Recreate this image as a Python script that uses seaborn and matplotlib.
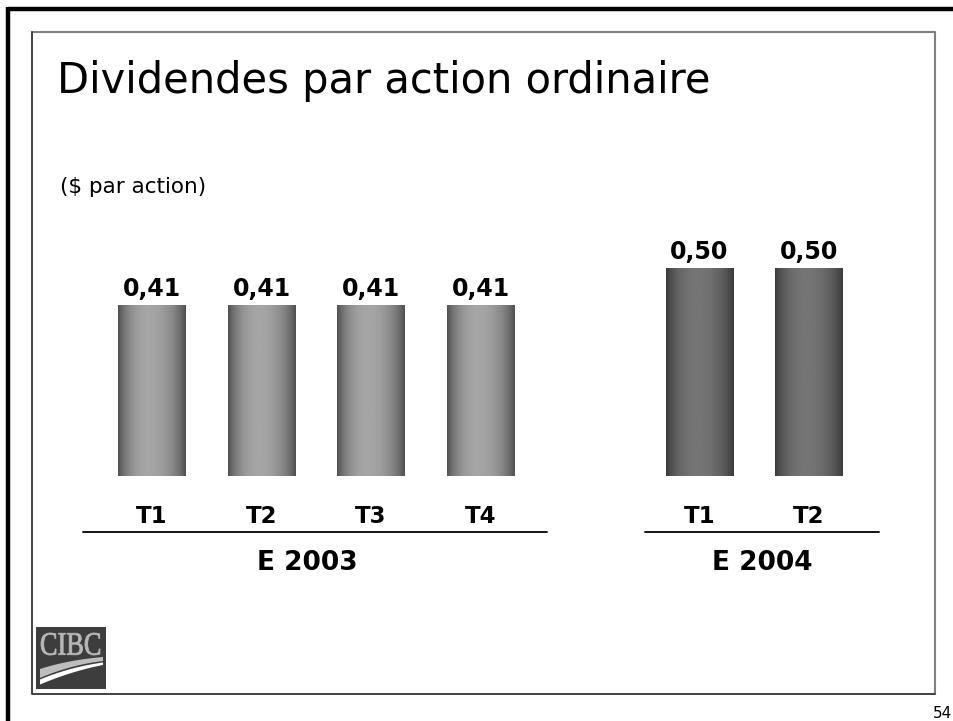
import numpy as np
import pandas as pd
import matplotlib
matplotlib.use("Agg")
import matplotlib.pyplot as plt
import seaborn as sns
from matplotlib.textpath import TextPath
from matplotlib.patches import PathPatch, Polygon, Rectangle
from matplotlib.font_manager import FontProperties
from matplotlib.transforms import Affine2D, blended_transform_factory
from matplotlib.lines import Line2D

# ---------------- data ----------------
quarters = ["T1", "T2", "T3", "T4", "T1", "T2"]
years = ["E 2003", "E 2003", "E 2003", "E 2003", "E 2004", "E 2004"]
dividends = [0.41, 0.41, 0.41, 0.41, 0.50, 0.50]
title = "Dividendes par action ordinaire"
subtitle = "($ par action)"
page_number = "54"

# slot positions: consecutive within a year, one empty slot between years
pos = []
p = 0
for i, y in enumerate(years):
    if i > 0 and y != years[i - 1]:
        p += 1
    pos.append(p)
    p += 1
df = pd.DataFrame({"pos": pos, "quarter": quarters, "year": years, "value": dividends})

# ---------------- figure ----------------
W, H = 954, 721
sns.set_theme(style="white", rc={"text.color": "black", "xtick.color": "black"})
plt.rcParams["font.family"] = ["DejaVu Sans"]
fig = plt.figure(figsize=(W / 100, H / 100), dpi=100)
fig.patch.set_facecolor("white")

# overlay axes in pixel coordinates (decoration)
ov = fig.add_axes([0, 0, 1, 1], zorder=0)
ov.set_xlim(0, W)
ov.set_ylim(H, 0)
ov.axis("off")
ov.patch.set_alpha(0)

# outer frame (top & left)
ov.add_line(Line2D([8.5, W], [8.5, 8.5], color="black", lw=3.2, solid_capstyle="butt"))
ov.add_line(Line2D([8.5, 8.5], [7, H], color="black", lw=3.2, solid_capstyle="butt"))
# inner slide box: light top/right, darker left/bottom
ov.add_line(Line2D([32, 935, 935], [32, 32, 694], color="#808080", lw=1.5))
ov.add_line(Line2D([32, 32, 935], [32, 694, 694], color="#333333", lw=1.3))

ov.text(57, 93, title, fontsize=30, va="baseline", ha="left", color="black")
ov.text(60, 187, subtitle, fontsize=15.5, va="center", ha="left", color="black")
ov.text(952, 713, page_number, fontsize=11, va="center", ha="right", color="black")

# CIBC logo
ov.add_patch(Rectangle((36, 627), 70, 62, fc="#3d3d3d", ec="none"))
tp = TextPath((0, 0), "CIBC", size=10, prop=FontProperties(family="Liberation Serif"))
bb = tp.get_extents()
sx = (100 - 41) / bb.width
sy = (655 - 633) / bb.height
tr = Affine2D().translate(-bb.x0, -bb.y0).scale(sx, -sy).translate(41, 655)
ov.add_patch(PathPatch(tr.transform_path(tp), fc="#b8b8b8", ec="#b8b8b8", lw=0.6))


def curve(x0, y0, x1, y1, cx, cy, n=30):
    t = np.linspace(0, 1, n)
    xs = (1 - t) ** 2 * x0 + 2 * (1 - t) * t * cx + t ** 2 * x1
    ys = (1 - t) ** 2 * y0 + 2 * (1 - t) * t * cy + t ** 2 * y1
    return np.column_stack([xs, ys])


top = curve(40, 669, 103, 657, 68, 660)
bot = curve(103, 661, 40, 678, 70, 665)
ov.add_patch(Polygon(np.vstack([top, bot]), fc="#bdbdbd", ec="none"))
top2 = curve(40, 679.5, 103, 662.5, 70, 667)
bot2 = curve(103, 665, 40, 684.5, 72, 671)
ov.add_patch(Polygon(np.vstack([top2, bot2]), fc="white", ec="none"))

# ---------------- bar axes ----------------
x_m1_px, x_7_px = 42.5, 918.5          # pixel positions of x=-1 and x=7
y0_px, unit_px = 476, 416              # baseline pixel, pixels per $ unit
ymax = 0.6
ax = fig.add_axes([x_m1_px / W, 1 - y0_px / H, (x_7_px - x_m1_px) / W, ymax * unit_px / H], zorder=2)
ax.patch.set_alpha(0)

sns.barplot(data=df, x="pos", y="value", native_scale=True, width=0.62,
            color="#777777", errorbar=None, ax=ax, saturation=1)

grad_style = {"E 2003": (0.30, 0.65), "E 2004": (0.22, 0.46)}
t = np.linspace(0, 1, 200)
bars = sorted(ax.patches, key=lambda b: b.get_x())
for bar, yr in zip(bars, df.sort_values("pos")["year"]):
    edge, center = grad_style[yr]
    peak = 0.45
    d = np.where(t < peak, (t - peak) / peak, (t - peak) / (1 - peak))
    prof = edge + (center - edge) * (1 - d ** 2) ** 0.8
    x0, w = bar.get_x(), bar.get_width()
    y0, h = bar.get_y(), bar.get_height()
    im = ax.imshow(prof[None, :], extent=[x0, x0 + w, y0, y0 + h], aspect="auto",
                   cmap="gray", vmin=0, vmax=1, interpolation="bilinear", zorder=bar.get_zorder())
    im.set_clip_path(bar)
    bar.set_facecolor("none")
    bar.set_edgecolor("none")

labels = [f"{v:.2f}".replace(".", ",") for v in df.sort_values("pos")["value"]]
ax.bar_label(ax.containers[0], labels=labels, padding=3, fontsize=17, fontweight="bold", color="black")

ax.set_xlim(-1, 7)
ax.set_ylim(0, ymax)
ax.set_xticks(df["pos"])
ax.set_xticklabels(df["quarter"], fontsize=16.5, fontweight="bold", color="black")
ax.tick_params(axis="x", length=0, pad=21)
ax.set_yticks([])
ax.set_xlabel("")
ax.set_ylabel("")
for s in ax.spines.values():
    s.set_visible(False)

# year group rules and labels
group_rule = {"E 2003": (-0.63, 0.61, -0.08), "E 2004": (-0.50, 0.64, 0.07)}
bt = blended_transform_factory(ax.transData, ax.transAxes)
line_y = (y0_px - 532) / (ymax * unit_px)
year_y = (y0_px - 563) / (ymax * unit_px)
for yr, g in df.groupby("year"):
    lo, hi = g["pos"].min(), g["pos"].max()
    l_ext, r_ext, shift = group_rule[yr]
    ax.add_line(Line2D([lo + l_ext, hi + r_ext], [line_y, line_y], transform=bt, color="black",
                       lw=1.3, clip_on=False))
    ax.text((lo + hi) / 2 + shift, year_y, yr, transform=bt, ha="center", va="center",
            fontsize=19, fontweight="bold", color="black", clip_on=False)

fig.savefig("out.png", dpi=100)
